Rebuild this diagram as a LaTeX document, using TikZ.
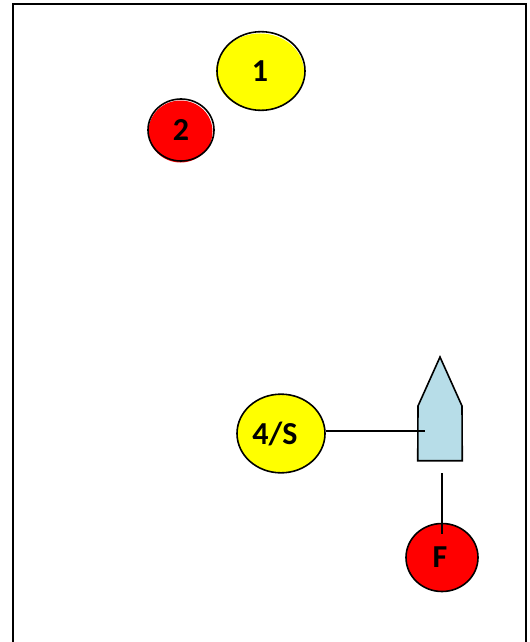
\documentclass[tikz,border=0pt]{standalone}
\usepackage{fontspec}
\setmainfont{Carlito}
\usetikzlibrary{positioning, shapes.geometric}
\definecolor{buoyyellow}{RGB}{255,255,0}
\definecolor{buoyred}{RGB}{255,0,0}
\definecolor{boatblue}{RGB}{183,221,232}
% label set a little low and to the left of the centre
\newcommand{\marklabel}[2]{\raisebox{-1pt}{#2}\kern#1}

\begin{document}
\begin{tikzpicture}[x=0.75pt,y=-0.75pt,on grid]
    \tikzstyle{mark circle} = [ellipse,inner sep=0pt,draw=black,line width=1.2pt,font=\fontsize{24}{28}\selectfont\bfseries]
    \tikzstyle{big} = [mark circle,minimum width=66pt,minimum height=59pt]
    \tikzstyle{line} = [black,line width=1.2pt]

    \useasboundingbox (0,0) rectangle (529,642);
    \draw [line width=1.5pt] (13,642) -- (13,4) -- (526,4) -- (526,642);

    % colour sticks out a little behind the outlines
    \fill [buoyyellow] (260,72) ellipse [x radius=44,y radius=38.5];
    \fill [buoyred] (180.5,131.5) ellipse [x radius=32,y radius=31];

    \node (one) [big] at (261,71) {\marklabel{1.5pt}{1}};
    \node (two) [mark circle,minimum width=49.5pt,minimum height=46.5pt,below left=44.25pt and 60pt of one] {\marklabel{0pt}{2}};

    \node (four) [big,fill=buoyyellow] at (281,433.5) {\marklabel{9pt}{4/S}};

    \node (boat) [right=119.25pt of four,minimum width=33pt,minimum height=40.5pt,inner sep=0pt] {};
    \coordinate (tip) at (440,357);
    \coordinate (shoulderl) at (418,406);
    \coordinate (shoulderr) at (462,406);
    \draw [line,fill=boatblue] (boat.south west) -- (shoulderl) -- (tip) -- (shoulderr) -- (boat.south east) -- cycle;

    \node (fin) [mark circle,fill=buoyred,minimum width=54pt,minimum height=51pt,below=93pt of boat,xshift=1.5pt] {\marklabel{3pt}{F}};

    \coordinate (boatmid) at (425,431);
    \coordinate (four line) at (four.east |- boatmid);
    \draw [line] (four line) -- (boatmid);

    \coordinate (tail) at (442,473);
    \coordinate (fin top) at (442,534);
    \draw [line] (tail) -- (fin top);

\end{tikzpicture}
\end{document}
